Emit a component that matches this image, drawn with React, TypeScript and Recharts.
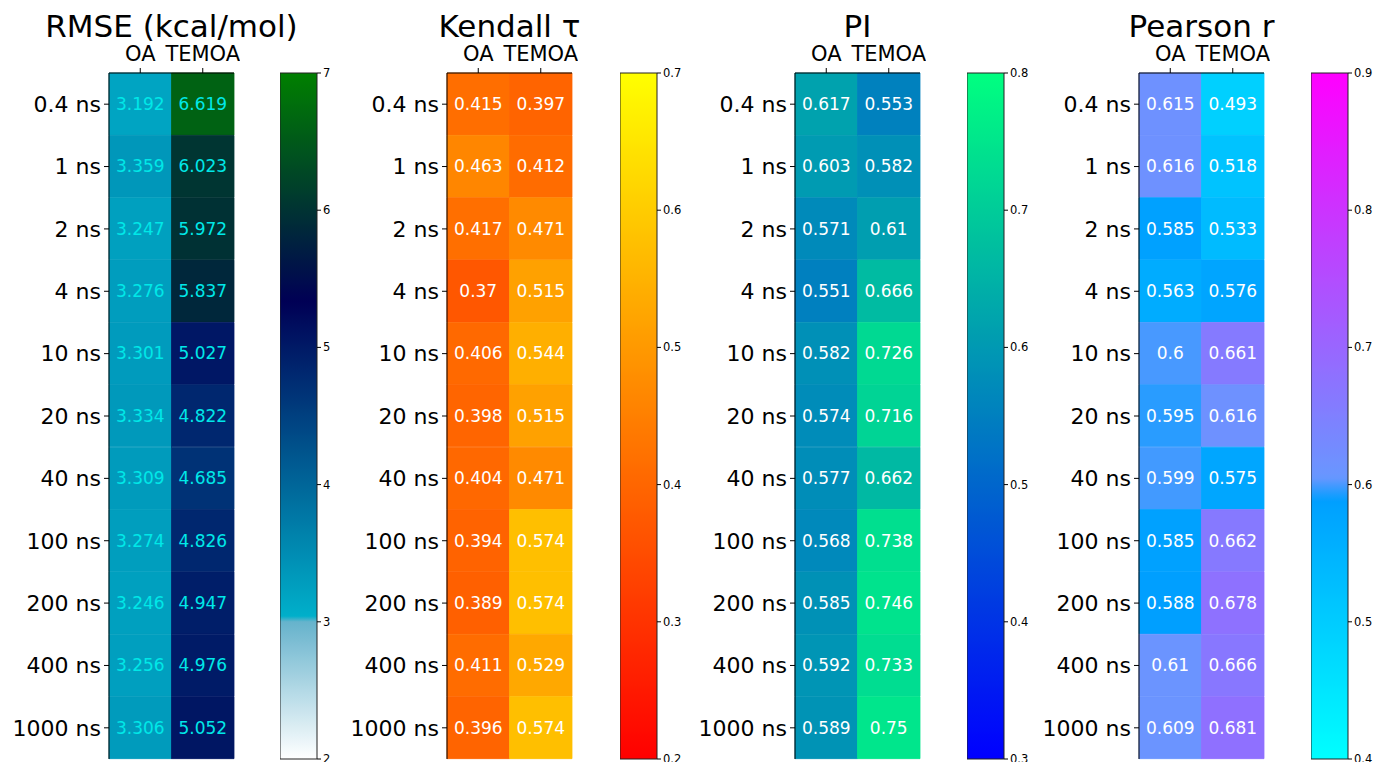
import React from 'react';
import { BarChart, Bar, XAxis, YAxis, LabelList, Cell } from 'recharts';

const rows = ['0.4 ns', '1 ns', '2 ns', '4 ns', '10 ns', '20 ns', '40 ns', '100 ns', '200 ns', '400 ns', '1000 ns'];
const columns = ['OA', 'TEMOA'];

const rmseOA = [3.192, 3.359, 3.247, 3.276, 3.301, 3.334, 3.309, 3.274, 3.246, 3.256, 3.306];
const rmseTEMOA = [6.619, 6.023, 5.972, 5.837, 5.027, 4.822, 4.685, 4.826, 4.947, 4.976, 5.052];
const kendallOA = [0.415, 0.463, 0.417, 0.37, 0.406, 0.398, 0.404, 0.394, 0.389, 0.411, 0.396];
const kendallTEMOA = [0.397, 0.412, 0.471, 0.515, 0.544, 0.515, 0.471, 0.574, 0.574, 0.529, 0.574];
const piOA = [0.617, 0.603, 0.571, 0.551, 0.582, 0.574, 0.577, 0.568, 0.585, 0.592, 0.589];
const piTEMOA = [0.553, 0.582, 0.61, 0.666, 0.726, 0.716, 0.662, 0.738, 0.746, 0.733, 0.75];
const pearsonOA = [0.615, 0.616, 0.585, 0.563, 0.6, 0.595, 0.599, 0.585, 0.588, 0.61, 0.609];
const pearsonTEMOA = [0.493, 0.518, 0.533, 0.576, 0.661, 0.616, 0.575, 0.662, 0.678, 0.666, 0.681];

const rmseTicks = [2, 3, 4, 5, 6, 7];
const kendallTicks = [0.2, 0.3, 0.4, 0.5, 0.6, 0.7];
const piTicks = [0.3, 0.4, 0.5, 0.6, 0.7, 0.8];
const pearsonTicks = [0.4, 0.5, 0.6, 0.7, 0.8, 0.9];

type RGB = [number, number, number];
const clip = (x: number) => Math.max(0, Math.min(1, x));

// colormaps: t is the normalised value in [0,1]
const oceanR = (t: number): RGB => {
  const x = 1 - t;
  const r = t >= 0.2 ? 0 : clip(3 * x - 2);
  return [r, clip(Math.abs((3 * x - 1) / 2)), x];
};
const autumn = (t: number): RGB => [1, t, 0];
const winter = (t: number): RGB => [0, t, 1 - t / 2];
const cool = (t: number): RGB => {
  const f = clip((t - 0.376) / 0.034);
  return [t * f, 1 - t, 1];
};

const toHex = (c: RGB) =>
  '#' + c.map((v) => Math.round(clip(v) * 255).toString(16).padStart(2, '0')).join('');

interface PanelCfg {
  id: string;
  title: string;
  oa: number[];
  temoa: number[];
  ticks: number[];
  cmap: (t: number) => RGB;
  textColor: string;
  heatLeft: number;
  cbLeft: number;
}

const panels: PanelCfg[] = [
  { id: 'rmse', title: 'RMSE (kcal/mol)', oa: rmseOA, temoa: rmseTEMOA, ticks: rmseTicks, cmap: oceanR, textColor: '#00e8e8', heatLeft: 109, cbLeft: 280 },
  { id: 'kendall', title: 'Kendall τ', oa: kendallOA, temoa: kendallTEMOA, ticks: kendallTicks, cmap: autumn, textColor: '#ffffff', heatLeft: 447, cbLeft: 620 },
  { id: 'pi', title: 'PI', oa: piOA, temoa: piTEMOA, ticks: piTicks, cmap: winter, textColor: '#ffffff', heatLeft: 795, cbLeft: 967 },
  { id: 'pearson', title: 'Pearson r', oa: pearsonOA, temoa: pearsonTEMOA, ticks: pearsonTicks, cmap: cool, textColor: '#ffffff', heatLeft: 1139, cbLeft: 1311 },
];

const TOP = 73;
const BOTTOM = 759;
const HEIGHT = 762;
const HEAT_W = 125;
const YAXIS_W = 109;
const CB_W = 37;

const one = () => 1;

function Heat({ p }: { p: PanelCfg }) {
  const min = p.ticks[0];
  const max = p.ticks[p.ticks.length - 1];
  const color = (v: number) => toHex(p.cmap(clip((v - min) / (max - min))));
  const data = rows.map((row, i) => ({ row, oa: p.oa[i], temoa: p.temoa[i] }));
  return (
    <div style={{ position: 'absolute', left: p.heatLeft - YAXIS_W, top: 0 }}>
      <BarChart
        width={YAXIS_W + HEAT_W + 6}
        height={HEIGHT}
        data={data}
        layout="vertical"
        margin={{ top: TOP - 40, right: 6, bottom: HEIGHT - BOTTOM, left: 0 }}
        barCategoryGap={0}
        barGap={0}
      >
        <XAxis
          xAxisId="t"
          type="number"
          orientation="top"
          domain={[0, 2]}
          ticks={[0.5, 1.5]}
          interval={0}
          tickFormatter={(v: number) => columns[Math.floor(v)]}
          height={40}
          tickSize={5}
          tickMargin={7}
          tick={{ fontSize: 21, fill: '#000' }}
          axisLine={{ stroke: '#000' }}
          tickLine={{ stroke: '#000' }}
        />
        <XAxis xAxisId="b" type="number" orientation="bottom" domain={[0, 2]} height={0} tick={false} tickLine={false} axisLine={{ stroke: '#000' }} />
        <YAxis
          yAxisId="l"
          type="category"
          dataKey="row"
          width={YAXIS_W}
          interval={0}
          tickSize={5}
          tickMargin={3}
          tick={{ fontSize: 22, fill: '#000' }}
          axisLine={{ stroke: '#000' }}
          tickLine={{ stroke: '#000' }}
        />
        <YAxis yAxisId="r" type="category" dataKey="row" orientation="right" width={0} tick={false} tickLine={false} axisLine={{ stroke: '#000' }} />
        <Bar xAxisId="t" yAxisId="l" dataKey={one} stackId="s" isAnimationActive={false}>
          {data.map((d, i) => (
            <Cell key={i} fill={color(d.oa)} stroke={color(d.oa)} strokeWidth={0.8} />
          ))}
          <LabelList dataKey="oa" position="center" fill={p.textColor} stroke="none" fontSize={17} />
        </Bar>
        <Bar xAxisId="t" yAxisId="l" dataKey={one} stackId="s" isAnimationActive={false}>
          {data.map((d, i) => (
            <Cell key={i} fill={color(d.temoa)} stroke={color(d.temoa)} strokeWidth={0.8} />
          ))}
          <LabelList dataKey="temoa" position="center" fill={p.textColor} stroke="none" fontSize={17} />
        </Bar>
      </BarChart>
    </div>
  );
}

function ColorBar({ p }: { p: PanelCfg }) {
  const min = p.ticks[0];
  const max = p.ticks[p.ticks.length - 1];
  const n = 120;
  const stops = Array.from({ length: n + 1 }, (_, i) => {
    const t = 1 - i / n;
    return <stop key={i} offset={`${(i / n) * 100}%`} stopColor={toHex(p.cmap(t))} />;
  });
  const gid = `grad-${p.id}`;
  return (
    <div style={{ position: 'absolute', left: p.cbLeft, top: 0 }}>
      <BarChart
        width={CB_W + 34}
        height={HEIGHT}
        data={[{ k: p.id, range: [min, max] }]}
        margin={{ top: TOP, right: 0, bottom: HEIGHT - BOTTOM, left: 0 }}
        barCategoryGap={0}
      >
        <defs>
          <linearGradient id={gid} x1="0" y1="0" x2="0" y2="1">
            {stops}
          </linearGradient>
        </defs>
        <XAxis dataKey="k" hide />
        <YAxis
          orientation="right"
          type="number"
          domain={[min, max]}
          ticks={p.ticks}
          interval={0}
          width={34}
          tickSize={4}
          tickMargin={2}
          tick={{ fontSize: 11.5, fill: '#000' }}
          axisLine={false}
          tickLine={{ stroke: '#000' }}
          tickFormatter={(v: number) => String(v)}
        />
        <Bar dataKey="range" fill={`url(#${gid})`} stroke="#222" strokeWidth={1} isAnimationActive={false} />
      </BarChart>
    </div>
  );
}

export default function App() {
  return (
    <div
      style={{
        position: 'absolute',
        left: 0,
        top: 0,
        width: 1373,
        height: HEIGHT,
        background: '#fff',
        fontFamily: '"DejaVu Sans", sans-serif',
        overflow: 'hidden',
      }}
    >
      {panels.map((p) => (
        <React.Fragment key={p.id}>
          <Heat p={p} />
          <ColorBar p={p} />
        </React.Fragment>
      ))}
      <svg width={1373} height={45} style={{ position: 'absolute', left: 0, top: 0, pointerEvents: 'none' }}>
        {panels.map((p) => (
          <text key={p.id} x={p.heatLeft + HEAT_W / 2} y={37} textAnchor="middle" fontSize={31} fill="#000" fontFamily='"DejaVu Sans", sans-serif'>
            {p.title}
          </text>
        ))}
      </svg>
    </div>
  );
}
